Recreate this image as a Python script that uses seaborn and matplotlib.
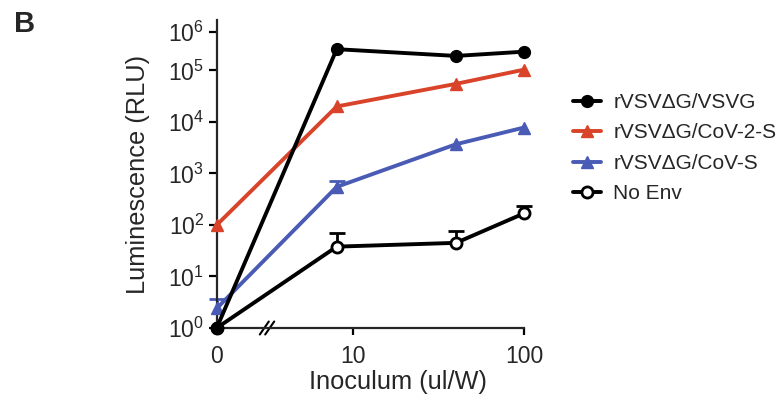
import numpy as np
import pandas as pd
import matplotlib
matplotlib.use("Agg")
import matplotlib.pyplot as plt
import seaborn as sns

# ---- data ----
inoculum = [0, 8, 40, 100]
vsvg = [1, 3.6e5, 2.4e5, 3.1e5]
cov2_s = [100, 2.0e4, 5.5e4, 1.05e5]
cov_s = [2.4, 550, 3700, 7800]
no_env = [1, 38, 45, 168]
cov_s_err_top = [3.6, 720, np.nan, np.nan]
no_env_err_top = [np.nan, 70, 78, 230]

labels = ["rVSVΔG/VSVG", "rVSVΔG/CoV-2-S", "rVSVΔG/CoV-S", "No Env"]
xticks = [0, 10, 100]
xticklabels = ["0", "10", "100"]
yticks = [1e0, 1e1, 1e2, 1e3, 1e4, 1e5, 1e6]
yticklabels = [r"$10^{%d}$" % i for i in range(7)]

RED = "#D8432A"
BLUE = "#4A5BB5"
BLACK = "#000000"

sns.set_style("ticks")
plt.rcParams["font.family"] = ["Liberation Sans", "DejaVu Sans"]
plt.rcParams["mathtext.fontset"] = "custom"
plt.rcParams["mathtext.rm"] = "Liberation Sans"
plt.rcParams["mathtext.it"] = "Liberation Sans:italic"
plt.rcParams["mathtext.bf"] = "Liberation Sans:bold"

# ---- axis transforms (broken x axis at 0, compressed top decade on y) ----
Y_COMP = 0.743


def yf(y):
    y = np.asarray(y, float)
    with np.errstate(all="ignore"):
        l = np.log10(np.maximum(y, 1e-300))
    return np.where(l <= 5, l, 5 + (l - 5) * Y_COMP)


def yi(u):
    u = np.asarray(u, float)
    with np.errstate(all="ignore"):
        return np.where(u <= 5, 10.0 ** u, 10.0 ** (5 + (u - 5) / Y_COMP))


X0, XT = 0.2, 2.0
LT = np.log10(XT)


def xf(x):
    x = np.asarray(x, float)
    with np.errstate(all="ignore"):
        return np.where(x < XT, X0 + x * (LT - X0) / XT, np.log10(np.maximum(x, XT)))


def xi(u):
    u = np.asarray(u, float)
    with np.errstate(all="ignore"):
        return np.where(u < LT, (u - X0) * XT / (LT - X0), 10.0 ** u)


fig = plt.figure(figsize=(7.83, 3.97), dpi=100)
W, H = 783, 397
ax = fig.add_axes([216.7 / W, (H - 328) / H, 307.3 / W, 308 / H])

LW = 2.8
common = dict(linewidth=LW, clip_on=False, ax=ax)

sns.lineplot(x=inoculum, y=cov_s, color=BLUE, marker="^", markersize=9,
             markeredgecolor=BLUE, markeredgewidth=1, label=labels[2], zorder=3, **common)
sns.lineplot(x=inoculum, y=cov2_s, color=RED, marker="^", markersize=9,
             markeredgecolor=RED, markeredgewidth=1, label=labels[1], zorder=4, **common)
sns.lineplot(x=inoculum, y=no_env, color=BLACK, marker="o", markersize=8,
             markerfacecolor="white", markeredgecolor=BLACK, markeredgewidth=2,
             label=labels[3], zorder=5, **common)
sns.lineplot(x=inoculum, y=vsvg, color=BLACK, marker="o", markersize=8.5,
             markeredgecolor=BLACK, markeredgewidth=1, label=labels[0], zorder=6, **common)

# upper-only error bars
for vals, tops, col in [(cov_s, cov_s_err_top, BLUE), (no_env, no_env_err_top, BLACK)]:
    v = np.array(vals, float)
    t = np.array(tops, float)
    m = ~np.isnan(t)
    xs = np.array(inoculum, float)[m]
    ax.errorbar(xs, v[m], yerr=[np.zeros(m.sum()), t[m] - v[m]], fmt="none",
                ecolor=col, elinewidth=2, capsize=0, zorder=2, clip_on=False)
    ax.plot(xs, t[m], linestyle="none", marker="_", markersize=11,
            markeredgewidth=2, color=col, zorder=2, clip_on=False)

ax.set_xscale("function", functions=(xf, xi))
ax.set_yscale("function", functions=(yf, yi))
ax.set_xlim(0, 100)
ax.set_ylim(1, float(yi(5.98)))

ax.set_xticks(xticks)
ax.set_xticklabels(xticklabels)
ax.set_yticks(yticks)
ax.set_yticklabels(yticklabels)
ax.minorticks_off()

sns.despine(ax=ax)
for s in ["left", "bottom"]:
    ax.spines[s].set_linewidth(1.6)
ax.tick_params(axis="both", width=1.6, length=5, labelsize=16.5, color="black")
ax.tick_params(axis="x", pad=7.5)
ax.tick_params(axis="y", length=6, pad=3)

ax.set_xlabel("Inoculum (ul/W)", fontsize=18.3)
ax.set_ylabel("Luminescence (RLU)", fontsize=18.3)
ax.xaxis.set_label_coords(0.59, -0.135)
ax.yaxis.set_label_coords(-0.217, 0.5)

# axis-break marks
bx = (267 - 216.7) / 307.3
dx = 4.5 / 307.3
dy = 6.5 / 308
for off in (-2.7 / 307.3, 2.7 / 307.3):
    ax.plot([bx + off - dx, bx + off + dx], [-dy, dy], transform=ax.transAxes,
            color="black", lw=1.5, clip_on=False)

# legend in requested order
h, l = ax.get_legend_handles_labels()
hd = dict(zip(l, h))
if ax.get_legend():
    ax.get_legend().remove()
fig.legend([hd[k] for k in labels], labels, loc="upper left",
           bbox_to_anchor=(573 / W, 1 - 93 / H), frameon=False, borderpad=0,
           borderaxespad=0, handlelength=1.35, handletextpad=0.58,
           labelspacing=0.55, fontsize=15)

fig.text(14 / W, 1 - 32 / H, "B", fontsize=21, fontweight="bold", va="baseline")

fig.savefig("out.png", dpi=100)
